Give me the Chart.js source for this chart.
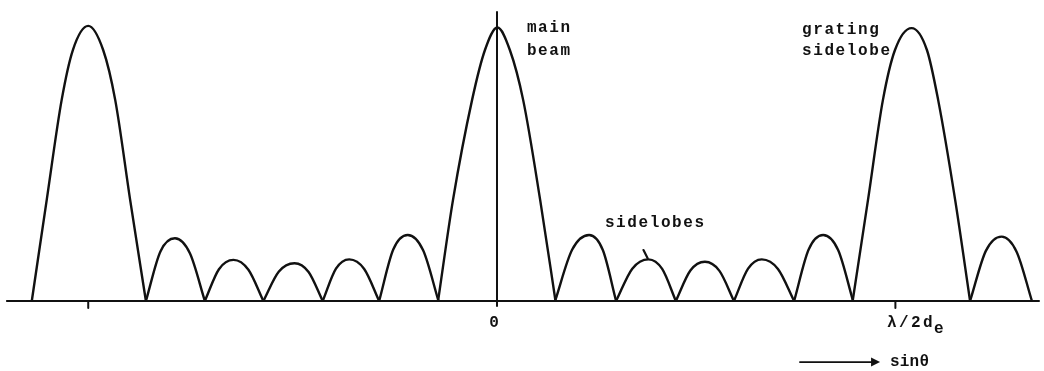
<!DOCTYPE html>
<html>
<head>
<meta charset="utf-8">
<script src="https://cdn.jsdelivr.net/npm/chart.js@4.4.1/dist/chart.umd.min.js"></script>
<style>
  html, body { margin: 0; padding: 0; background: #fff; }
  canvas { display: block; }
</style>
</head>
<body>
<canvas id="pattern" width="1044" height="371"></canvas>
<script>
// array factor against sin(theta): x in units of lambda/2d_e, amplitude relative to the main beam
var gratingLeft = [[-1.121, 0], [-1.085, 0.369], [-1.049, 0.734], [-1.022, 0.916], [-0.985, 1.004],
                   [-0.949, 0.916], [-0.920, 0.734], [-0.884, 0.369], [-0.846, 0]];
var mainBeam = [[-0.142, 0], [-0.106, 0.369], [-0.060, 0.734], [-0.029, 0.916], [0.001, 0.998],
                [0.031, 0.916], [0.063, 0.734], [0.104, 0.369], [0.141, 0]];
var gratingRight = [[0.857, 0], [0.894, 0.369], [0.930, 0.734], [0.959, 0.916], [0.999, 0.996],
                    [1.036, 0.916], [1.063, 0.734], [1.104, 0.369], [1.140, 0]];

// small lobes, left to right
var sidelobes = [
  [[-0.846, 0], [-0.811, 0.181], [-0.776, 0.229], [-0.740, 0.174], [-0.704, 0]],
  [[-0.704, 0], [-0.670, 0.116], [-0.635, 0.150], [-0.599, 0.114], [-0.563, 0]],
  [[-0.563, 0], [-0.526, 0.107], [-0.488, 0.138], [-0.454, 0.106], [-0.420, 0]],
  [[-0.420, 0], [-0.388, 0.118], [-0.356, 0.152], [-0.320, 0.117], [-0.284, 0]],
  [[-0.284, 0], [-0.250, 0.188], [-0.215, 0.241], [-0.178, 0.185], [-0.141, 0]],
  [[0.140, 0], [0.181, 0.187], [0.222, 0.241], [0.255, 0.186], [0.287, 0]],
  [[0.287, 0], [0.326, 0.118], [0.365, 0.152], [0.398, 0.117], [0.431, 0]],
  [[0.431, 0], [0.466, 0.111], [0.501, 0.143], [0.536, 0.110], [0.571, 0]],
  [[0.571, 0], [0.605, 0.118], [0.638, 0.152], [0.677, 0.117], [0.716, 0]],
  [[0.716, 0], [0.751, 0.188], [0.786, 0.241], [0.822, 0.186], [0.858, 0]],
  [[1.140, 0], [1.178, 0.183], [1.216, 0.235], [1.252, 0.180], [1.289, 0]]
];

var axisSpan = [-1.181, 1.306];     // horizontal axis
var beamAxis = [-0.018, 1.055];     // vertical line through the main beam
var tickPositions = [-0.985, 0.960];

var lobes = [gratingLeft, mainBeam, gratingRight].concat(sidelobes);

var datasets = lobes.map(function(lobe) {
  return {
    data: lobe.map(function(p) { return { x: p[0], y: p[1] }; }),
    showLine: true,
    borderColor: '#111',
    borderWidth: 2.4,
    pointRadius: 0,
    cubicInterpolationMode: 'monotone',
    fill: false
  };
});

var sketch = {
  id: 'sketch',
  afterDatasetsDraw: function(chart) {
    var c = chart.ctx;
    var X = function(v) { return chart.scales.x.getPixelForValue(v); };
    var Y = function(v) { return chart.scales.y.getPixelForValue(v); };
    function seg(x1, y1, x2, y2) {
      c.beginPath(); c.moveTo(x1, y1); c.lineTo(x2, y2); c.stroke();
    }
    c.save();
    c.strokeStyle = '#111';
    c.fillStyle = '#111';
    c.lineCap = 'round';

    c.lineWidth = 2;
    seg(X(axisSpan[0]), Y(0), X(axisSpan[1]), Y(0));
    seg(X(0), Y(beamAxis[0]), X(0), Y(beamAxis[1]));
    tickPositions.forEach(function(t) { seg(X(t), Y(0), X(t), Y(0) + 7); });

    // pointer from the label to a sidelobe
    c.lineWidth = 2.2;
    seg(X(0.353), Y(0.186), X(0.363), Y(0.156));

    // direction arrow
    var ay = Y(-0.223), ax0 = X(0.730), ax1 = X(0.923);
    c.lineWidth = 1.8;
    seg(ax0, ay, ax1 - 6, ay);
    c.beginPath();
    c.moveTo(ax1, ay);
    c.lineTo(ax1 - 9, ay - 4.5);
    c.lineTo(ax1 - 9, ay + 4.5);
    c.closePath();
    c.fill();

    c.font = 'bold 16px "Liberation Mono"';
    c.letterSpacing = '1.6px';
    c.textBaseline = 'alphabetic';
    c.textAlign = 'left';
    c.fillText('main', X(0.072), Y(0.982));
    c.fillText('beam', X(0.072), Y(0.898));
    c.fillText('grating', X(0.735), Y(0.974));
    c.fillText('sidelobe', X(0.735), Y(0.898));
    c.fillText('sidelobes', X(0.260), Y(0.270));

    c.textAlign = 'center';
    c.fillText('0', X(-0.005), Y(-0.095));

    c.textAlign = 'left';
    c.letterSpacing = '2.4px';
    c.fillText('\u03bb/2d', X(0.940), Y(-0.095));
    c.letterSpacing = '0px';
    c.fillText('e', X(1.053), Y(-0.117));
    c.letterSpacing = '0.2px';
    c.fillText('sin\u03b8', X(0.947), Y(-0.237));
    c.restore();
  }
};

new Chart(document.getElementById('pattern'), {
  type: 'scatter',
  data: { datasets: datasets },
  options: {
    responsive: false,
    animation: false,
    devicePixelRatio: 1,
    layout: { padding: 0 },
    plugins: { legend: { display: false }, tooltip: { enabled: false } },
    scales: {
      x: { type: 'linear', display: false, min: -1.1976, max: 1.3181 },
      y: { type: 'linear', display: false, min: -0.2555, max: 1.0985 }
    }
  },
  plugins: [sketch]
});
</script>
</body>
</html>
